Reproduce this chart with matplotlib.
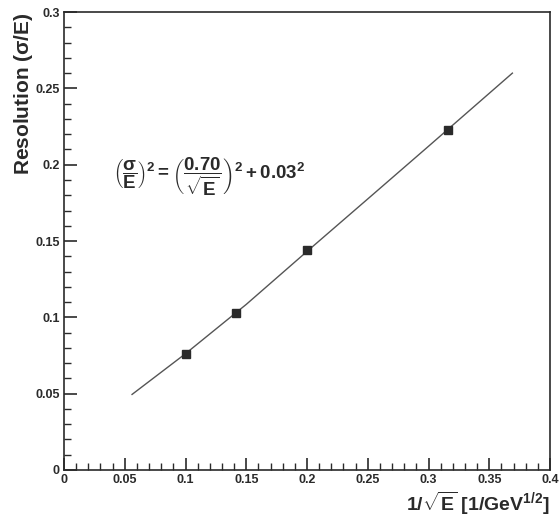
import matplotlib
matplotlib.use("Agg")
import matplotlib.pyplot as plt
from matplotlib.ticker import MultipleLocator

plt.rcParams["font.family"] = ["Liberation Sans", "DejaVu Sans"]
plt.rcParams["mathtext.fontset"] = "custom"
plt.rcParams["mathtext.rm"] = "Liberation Sans:bold"
plt.rcParams["mathtext.it"] = "Liberation Sans:bold"
plt.rcParams["mathtext.bf"] = "Liberation Sans:bold"
plt.rcParams["mathtext.default"] = "bf"

# measured points: 1/sqrt(E) vs resolution
inv_sqrt_e = [0.100, 0.1414, 0.200, 0.316]
resolution = [0.076, 0.1028, 0.144, 0.2228]

# fit curve
fit_x = [0.056, 0.10, 0.15, 0.20, 0.25, 0.30, 0.369]
fit_y = [0.0495, 0.0762, 0.1085, 0.1432, 0.1776, 0.2121, 0.2600]

x_ticks = [0, 0.05, 0.1, 0.15, 0.2, 0.25, 0.3, 0.35, 0.4]
x_tick_labels = ["0", "0.05", "0.1", "0.15", "0.2", "0.25", "0.3", "0.35", "0.4"]
y_ticks = [0, 0.05, 0.1, 0.15, 0.2, 0.25, 0.3]
y_tick_labels = ["0", "0.05", "0.1", "0.15", "0.2", "0.25", "0.3"]

ink = "#2a2a2a"

fig = plt.figure(figsize=(5.59, 5.25), dpi=100)
ax = fig.add_axes([0.1145, 0.1048, 0.8695, 0.8722])

# -------- fit + points --------
ax.plot(fit_x, fit_y, color="#555555", lw=1.0)
ax.plot(inv_sqrt_e, resolution, "s", color=ink, ms=5.5, mec=ink)

ax.set_xlim(0, 0.4)
ax.set_ylim(0, 0.3)

# -------- ROOT-like axes --------
ax.set_xticks(x_ticks)
ax.set_xticklabels(x_tick_labels)
ax.set_yticks(y_ticks)
ax.set_yticklabels(y_tick_labels)
ax.xaxis.set_minor_locator(MultipleLocator(0.01))
ax.yaxis.set_minor_locator(MultipleLocator(0.01))
ax.tick_params(which="both", direction="in", colors=ink, top=False, right=False)
ax.tick_params(which="major", length=9, width=1.2, labelsize=9, pad=3)
ax.tick_params(which="minor", length=5, width=1.0)
for lab in ax.get_xticklabels() + ax.get_yticklabels():
    lab.set_fontweight("bold")
for sp in ax.spines.values():
    sp.set_color(ink)
    sp.set_linewidth(1.2)

ax.set_ylabel(r"Resolution ($\sigma$/E)", fontsize=15, fontweight="bold",
              color=ink, loc="top", labelpad=0)
ax.set_xlabel(r"1/$\sqrt{E}$ [1/GeV$^{1/2}$]", fontsize=14, fontweight="bold",
              color=ink, loc="right", labelpad=3)

ax.text(0.040, 0.192,
        r"$\left(\dfrac{\sigma}{E}\right)^{2} = \left(\dfrac{0.70}{\sqrt{E}}\right)^{2} + 0.03^{2}$",
        fontsize=13.5, color=ink, va="center", ha="left")

fig.savefig("out.png", dpi=100)
